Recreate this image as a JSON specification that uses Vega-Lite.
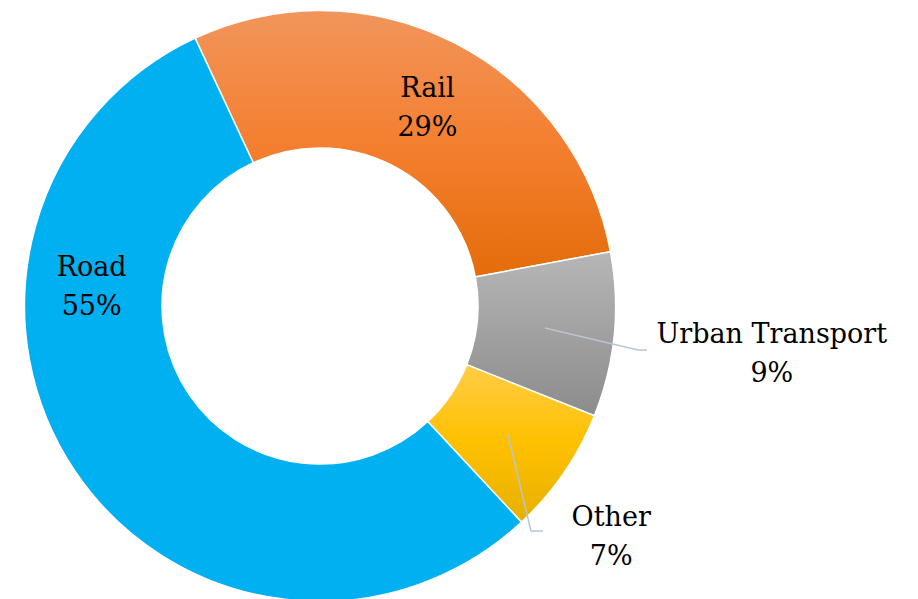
{
  "$schema": "https://vega.github.io/schema/vega-lite/v6.json",
  "width": 640,
  "height": 592,
  "padding": {"top": 7, "left": 0, "right": 0, "bottom": 0},
  "autosize": {"type": "pad"},
  "background": "white",
  "config": {"view": {"stroke": null}},
  "datasets": {
    "shares": [
      {"category": "Rail", "value": 29, "rank": 1},
      {"category": "Urban Transport", "value": 9, "rank": 2},
      {"category": "Other", "value": 7, "rank": 3},
      {"category": "Road", "value": 55, "rank": 4}
    ],
    "leaders": [
      {"label": "Urban Transport", "step": 1, "x": 0.7614, "y": -0.0745},
      {"label": "Urban Transport", "step": 2, "x": 1.0761, "y": -0.1489},
      {"label": "Urban Transport", "step": 3, "x": 1.1066, "y": -0.1489},
      {"label": "Other", "step": 1, "x": 0.6362, "y": -0.4365},
      {"label": "Other", "step": 2, "x": 0.7140, "y": -0.7614},
      {"label": "Other", "step": 3, "x": 0.7546, "y": -0.7614}
    ]
  },
  "layer": [
    {
      "data": {"name": "shares"},
      "transform": [
        {"stack": "value", "groupby": [], "sort": [{"field": "rank", "order": "ascending"}], "as": ["v0", "v1"]}
      ],
      "mark": {"type": "arc", "outerRadius": 295.5, "innerRadius": 158, "stroke": "white", "strokeWidth": 1.5},
      "encoding": {
        "theta": {"field": "v0", "type": "quantitative", "stack": null, "scale": {"domain": [0, 100], "range": [-0.43633, 5.84686]}},
        "theta2": {"field": "v1"},
        "color": {
          "condition": [
            {"test": "datum.category === 'Rail'", "value": {"gradient": "linear", "x1": 0, "y1": 0, "x2": 0, "y2": 1, "stops": [{"offset": 0, "color": "#F1955C"}, {"offset": 0.5, "color": "#F47F30"}, {"offset": 1, "color": "#E46C0A"}]}},
            {"test": "datum.category === 'Urban Transport'", "value": {"gradient": "linear", "x1": 0, "y1": 0, "x2": 0, "y2": 1, "stops": [{"offset": 0, "color": "#B6B6B6"}, {"offset": 1, "color": "#8C8C8C"}]}},
            {"test": "datum.category === 'Other'", "value": {"gradient": "linear", "x1": 0, "y1": 0, "x2": 0, "y2": 1, "stops": [{"offset": 0, "color": "#FFCD45"}, {"offset": 0.5, "color": "#FFC000"}, {"offset": 1, "color": "#E6B000"}]}}
          ],
          "value": "#00B0F0"
        }
      }
    },
    {
      "data": {"name": "leaders"},
      "mark": {"type": "line", "color": "#B9C5D1", "strokeWidth": 1.5},
      "encoding": {
        "x": {"field": "x", "type": "quantitative", "scale": {"domain": [-1.08291, 1.08291]}, "axis": null},
        "y": {"field": "y", "type": "quantitative", "scale": {"domain": [-1.00169, 1.00169]}, "axis": null},
        "detail": {"field": "label"},
        "order": {"field": "step"}
      }
    },
    {
      "data": {"name": "shares"},
      "transform": [
        {"stack": "value", "groupby": [], "sort": [{"field": "rank", "order": "ascending"}], "as": ["v0", "v1"]},
        {"calculate": "(datum.v0 + datum.v1) / 2", "as": "mid"},
        {"calculate": "datum.category + '\\n' + datum.value + '%'", "as": "label"},
        {"filter": "datum.category === 'Rail'"}
      ],
      "mark": {"type": "text", "font": "DejaVu Serif", "fontSize": 27, "lineBreak": "\n", "lineHeight": 39, "baseline": "alphabetic", "align": "center", "color": "black", "radius": 235},
      "encoding": {
        "theta": {"field": "mid", "type": "quantitative", "stack": null},
        "text": {"field": "label", "type": "nominal"}
      }
    },
    {
      "data": {"name": "shares"},
      "transform": [
        {"stack": "value", "groupby": [], "sort": [{"field": "rank", "order": "ascending"}], "as": ["v0", "v1"]},
        {"calculate": "(datum.v0 + datum.v1) / 2", "as": "mid"},
        {"calculate": "datum.category + '\\n' + datum.value + '%'", "as": "label"},
        {"filter": "datum.category === 'Urban Transport'"}
      ],
      "mark": {"type": "text", "font": "DejaVu Serif", "fontSize": 27, "lineBreak": "\n", "lineHeight": 39, "baseline": "alphabetic", "align": "center", "color": "black", "radius": 453, "dx": 1, "dy": -7},
      "encoding": {
        "theta": {"field": "mid", "type": "quantitative", "stack": null},
        "text": {"field": "label", "type": "nominal"}
      }
    },
    {
      "data": {"name": "shares"},
      "transform": [
        {"stack": "value", "groupby": [], "sort": [{"field": "rank", "order": "ascending"}], "as": ["v0", "v1"]},
        {"calculate": "(datum.v0 + datum.v1) / 2", "as": "mid"},
        {"calculate": "datum.category + '\\n' + datum.value + '%'", "as": "label"},
        {"filter": "datum.category === 'Other'"}
      ],
      "mark": {"type": "text", "font": "DejaVu Serif", "fontSize": 27, "lineBreak": "\n", "lineHeight": 39, "baseline": "alphabetic", "align": "center", "color": "black", "radius": 365, "dx": -10, "dy": 14},
      "encoding": {
        "theta": {"field": "mid", "type": "quantitative", "stack": null},
        "text": {"field": "label", "type": "nominal"}
      }
    },
    {
      "data": {"name": "shares"},
      "transform": [
        {"stack": "value", "groupby": [], "sort": [{"field": "rank", "order": "ascending"}], "as": ["v0", "v1"]},
        {"calculate": "(datum.v0 + datum.v1) / 2", "as": "mid"},
        {"calculate": "datum.category + '\\n' + datum.value + '%'", "as": "label"},
        {"filter": "datum.category === 'Road'"}
      ],
      "mark": {"type": "text", "font": "DejaVu Serif", "fontSize": 27, "lineBreak": "\n", "lineHeight": 39, "baseline": "alphabetic", "align": "center", "color": "black", "radius": 226, "dx": -41, "dy": -156},
      "encoding": {
        "theta": {"field": "mid", "type": "quantitative", "stack": null},
        "text": {"field": "label", "type": "nominal"}
      }
    }
  ]
}
